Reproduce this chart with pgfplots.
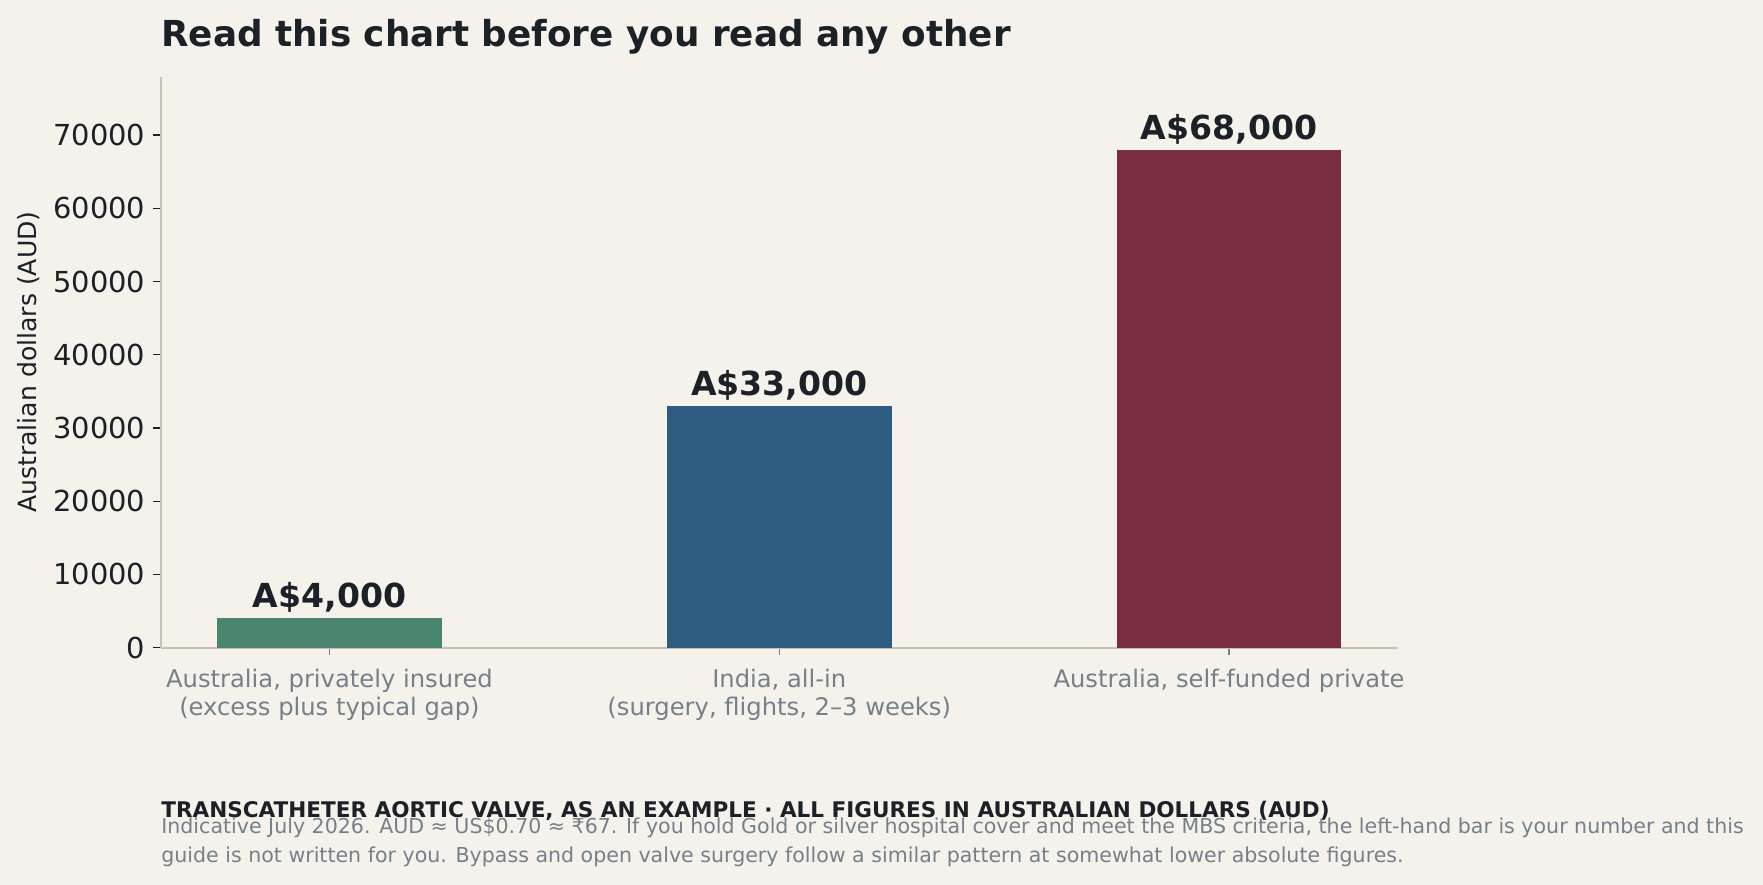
\documentclass[border=0pt]{standalone}
\usepackage{fontspec}
\setmainfont{DejaVu Sans}
\usepackage{pgfplots}
\pgfplotsset{compat=1.18}

\definecolor{bg}{HTML}{F5F2EB}
\definecolor{ink}{HTML}{1C2128}
\definecolor{muted}{HTML}{76808A}
\definecolor{spine}{HTML}{C8C0B0}
\definecolor{cgreen}{HTML}{4A8570}
\definecolor{cblue}{HTML}{2E5B82}
\definecolor{cred}{HTML}{7A2D3F}

\begin{document}
\begin{tikzpicture}
% page: 1763x885 px at 0.45pt per px
\path[fill=bg, use as bounding box] (0,0) rectangle (793.35pt,398.25pt);

\node[anchor=base west, text=ink, font=\fontsize{16.1}{19}\selectfont\bfseries, inner sep=0pt]
  at (72.4pt,377.5pt) {Read this chart before you read any other};

\begin{axis}[
    at={(72.36pt,106.8pt)}, anchor=south west,
    scale only axis,
    width=556.6pt, height=257pt,
    ybar, bar shift=0pt, bar width=0.5,
    xmin=-0.375, xmax=2.375,
    ymin=0, ymax=78000,
    axis x line*=bottom, axis y line*=left,
    axis line style={color=spine, line width=0.8pt, -},
    xtick={0,1,2},
    xticklabels={{Australia, privately insured\\(excess plus typical gap)},
                 {India, all-in\\(surgery, flights, 2--3 weeks)},
                 {Australia, self-funded private}},
    ytick={0,10000,...,70000},
    scaled y ticks=false,
    /pgf/number format/1000 sep={},
    /pgf/number format/assume math mode=true,
    tick align=outside,
    major tick length=3.5pt,
    tick style={color=ink, line width=0.6pt},
    every x tick/.append style={color=muted},
    yticklabel style={text=ink, font=\fontsize{13}{15.6}\selectfont},
    xticklabel style={text=muted, align=center, yshift=-2.5pt,
                      font=\fontsize{10.9}{12.6}\selectfont},
    ylabel={Australian dollars (AUD)},
    ylabel style={at={(axis description cs:-0.1067,0.5)}, anchor=center,
                  text=ink, font=\fontsize{11.3}{14}\selectfont},
    point meta=explicit symbolic,
    nodes near coords,
    every node near coord/.append style={anchor=base, yshift=4.8pt, inner sep=0pt,
        text=ink, font=\fontsize{14.9}{18}\selectfont\bfseries},
]
\addplot[fill=cgreen, draw=none] coordinates {(0,4000) [A\$4,000]};
\addplot[fill=cblue, draw=none] coordinates {(1,33000) [A\$33,000]};
\addplot[fill=cred, draw=none] coordinates {(2,68000) [A\$68,000]};
\end{axis}

\node[anchor=base west, text=ink, font=\fontsize{9.7}{11}\selectfont\bfseries, inner sep=0pt]
  at (72.4pt,30.15pt) {TRANSCATHETER AORTIC VALVE, AS AN EXAMPLE · ALL FIGURES IN AUSTRALIAN DOLLARS (AUD)};
\node[anchor=base west, text=muted, font=\fontsize{9.25}{11}\selectfont, inner sep=0pt]
  at (72.4pt,23.1pt) {Indicative July 2026. AUD ≈ US\$0.70 ≈ ₹67. If you hold Gold or silver hospital cover and meet the MBS criteria, the left-hand bar is your number and this};
\node[anchor=base west, text=muted, font=\fontsize{9.25}{11}\selectfont, inner sep=0pt]
  at (72.4pt,10.2pt) {guide is not written for you. Bypass and open valve surgery follow a similar pattern at somewhat lower absolute figures.};
\end{tikzpicture}
\end{document}
